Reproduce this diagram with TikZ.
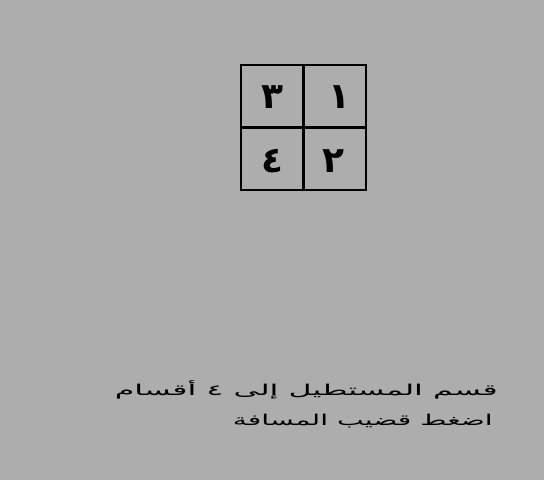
\documentclass[tikz,border=0pt]{standalone}
\usepackage{fontspec}
\usepackage{graphicx}
\newfontfamily\arabicfont[Script=Arabic]{DejaVu Sans}
\TeXXeTstate=1
\definecolor{bggray}{RGB}{173,173,173}
\tikzset{
  gridline/.style={draw=black, line width=2pt},
  divider/.style={draw=black, line width=3pt},
  digit/.style={font=\arabicfont\bfseries\fontsize{36}{38}\selectfont, text=black, inner sep=0pt},
  msg/.style={font=\arabicfont\fontsize{15}{17}\selectfont, text=black, inner sep=0pt, anchor=base east}
}
\begin{document}
\begin{tikzpicture}[x=1pt,y=-1pt]
\fill[bggray] (0,0) rectangle (544,480);
\useasboundingbox (0,0) rectangle (544,480);
\coordinate (tl) at (241,65);
\coordinate (br) at (366,190);
\draw[gridline] (tl) rectangle (br);
\coordinate (vt) at (303.5,65);
\coordinate (vb) at (303.5,190);
\coordinate (hl) at (241,127.5);
\coordinate (hr) at (366,127.5);
\draw[divider] (vt) -- (vb);
\draw[divider] (hl) -- (hr);
\node[digit] (d3) at (272,97) {\beginR ٣\endR};
\node[digit] (d1) at (339,97) {\beginR ١\endR};
\node[digit] (d4) at (272,161) {\beginR ٤\endR};
\node[digit] (d2) at (333,161) {\beginR ٢\endR};
\node[msg] (line1) at (498,395) {\resizebox{383pt}{\height}{\beginR قسم المستطيل إلى ٤ أقسام\endR}};
\node[msg] (line2) at (493,425) {\resizebox{260pt}{\height}{\beginR اضغط قضيب المسافة\endR}};
\end{tikzpicture}
\end{document}
